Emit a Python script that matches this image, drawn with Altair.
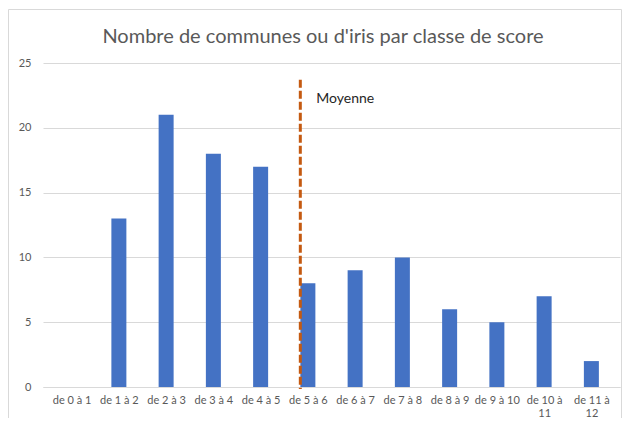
import altair as alt
import pandas as pd

categories = ["de 0 à 1", "de 1 à 2", "de 2 à 3", "de 3 à 4", "de 4 à 5", "de 5 à 6",
              "de 6 à 7", "de 7 à 8", "de 8 à 9", "de 9 à 10", "de 10 à|11", "de 11 à|12"]
class_mid = [0.5, 1.5, 2.5, 3.5, 4.5, 5.5, 6.5, 7.5, 8.5, 9.5, 10.5, 11.5]
counts = [0, 13, 21, 18, 17, 8, 9, 10, 6, 5, 7, 2]
mean_score = 5.34
mean_top = 23.7
mean_label = "Moyenne"
title = "Nombre de communes ou d'iris par classe de score"

df = pd.DataFrame({"mid": class_mid, "n": counts, "cat": categories})
mean_df = pd.DataFrame({"x": [mean_score], "y": [mean_top], "y0": [-0.15], "ty": [22.2],
                        "t": [mean_label], "title": [title]})

FONT = "Lato"
GREY = "#595959"

label_js = "[" + ",".join("'" + c + "'" for c in categories) + "]"

x_scale = alt.Scale(domain=[0, 12], nice=False, zero=False)
y_scale = alt.Scale(domain=[0, 25], nice=False)

bars = alt.Chart(df).mark_bar(size=15, color="#4472C4").encode(
    x=alt.X("mid:Q", scale=x_scale, title=None,
            axis=alt.Axis(values=class_mid, grid=False, ticks=False, domain=True,
                          domainColor="#d9d9d9", domainWidth=1,
                          labelExpr="split(" + label_js + "[floor(datum.value)], '|')",
                          labelFont=FONT, labelFontSize=11, labelColor=GREY,
                          labelPadding=7, labelLineHeight=13)),
    y=alt.Y("n:Q", scale=y_scale, title=None,
            axis=alt.Axis(values=[0, 5, 10, 15, 20, 25], domain=False, ticks=False,
                          gridColor="#d9d9d9", gridWidth=1,
                          labelFont=FONT, labelFontSize=11, labelColor=GREY,
                          labelPadding=12)),
)

rule = alt.Chart(mean_df).mark_rule(color="#C55A11", strokeWidth=3, strokeDash=[8, 3]).encode(
    x=alt.X("x:Q", scale=x_scale),
    y=alt.Y("y:Q", scale=y_scale),
    y2="y0:Q",
)

text = alt.Chart(mean_df).mark_text(align="left", baseline="middle", dx=16,
                                    font=FONT, fontSize=14, color="#262626").encode(
    x=alt.X("x:Q", scale=x_scale),
    y=alt.Y("ty:Q", scale=y_scale),
    text="t:N",
)

title_mark = alt.Chart(mean_df).mark_text(align="center", baseline="alphabetic",
                                          font=FONT, fontSize=20, color=GREY).encode(
    x=alt.value(280), y=alt.value(-20), text="title:N",
)

border = alt.Chart(mean_df).mark_rect(fill=None, stroke="#d9d9d9", strokeWidth=1).encode(
    x=alt.value(-34.5), x2=alt.value(578.5), y=alt.value(-53.5), y2=alt.value(370),
)

chart = alt.layer(border, bars, rule, text, title_mark).properties(
    width=577, height=324,
    autosize=alt.AutoSizeParams(type="none"),
    padding={"left": 35, "top": 55, "right": 2, "bottom": 31},
).configure_view(stroke=None)

chart.save("out.html", embed_options={"renderer": "svg", "actions": False})
